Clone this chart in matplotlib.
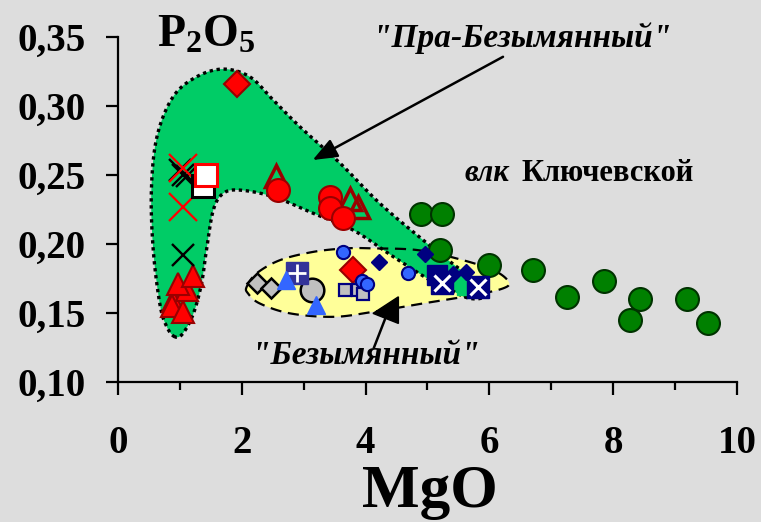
import numpy as np
import matplotlib
matplotlib.use("Agg")
import matplotlib.pyplot as plt
from matplotlib.patches import Polygon

plt.rcParams['font.family'] = ['Liberation Serif', 'DejaVu Serif']
plt.rcParams['mathtext.fontset'] = 'custom'
plt.rcParams['mathtext.rm'] = 'Liberation Serif'
plt.rcParams['mathtext.bf'] = 'Liberation Serif:bold'

# ---- data: MgO (x) vs P2O5 (y), wt.% ----
kl_mgo = [4.90, 5.24, 5.20, 6.00, 6.71, 7.26, 7.85, 8.43, 8.27, 9.19, 9.53]
kl_p2o5 = [0.222, 0.222, 0.196, 0.185, 0.181, 0.162, 0.173, 0.160, 0.145, 0.160, 0.143]

red_circ_mgo = [2.59, 3.42, 3.42, 3.64]
red_circ_p2o5 = [0.239, 0.234, 0.226, 0.219]

red_opentri_mgo = [2.56, 3.75, 3.88]
red_opentri_p2o5 = [0.249, 0.233, 0.227]

red_diam_mgo = [1.93, 3.79]
red_diam_p2o5 = [0.316, 0.181]

red_x_mgo = [1.05, 1.05]
red_x_p2o5 = [0.255, 0.227]

black_x_mgo = [1.00, 1.05, 1.11, 1.05]
black_x_p2o5 = [0.254, 0.250, 0.249, 0.192]

wsq_black_mgo = [1.38]
wsq_black_p2o5 = [0.242]
wsq_red_mgo = [1.42]
wsq_red_p2o5 = [0.250]

red_tri_mgo = [0.89, 0.87, 1.11, 0.97, 1.22, 1.05]
red_tri_p2o5 = [0.159, 0.155, 0.167, 0.171, 0.177, 0.151]

gray_diam_mgo = [2.24, 2.48]
gray_diam_p2o5 = [0.1715, 0.168]

gray_circ_mgo = [3.13]
gray_circ_p2o5 = [0.167]

navy_plus_mgo = [2.89]
navy_plus_p2o5 = [0.179]

blue_tri_mgo = [2.72, 3.20]
blue_tri_p2o5 = [0.174, 0.156]

gray_sq_mgo = [3.67, 3.88, 3.96]
gray_sq_p2o5 = [0.167, 0.1667, 0.164]

blue_circ_mgo = [3.64, 3.94, 4.02, 4.69]
blue_circ_p2o5 = [0.194, 0.173, 0.171, 0.179]

navy_diam_mgo = [4.21, 4.96, 5.42, 5.63]
navy_diam_p2o5 = [0.187, 0.193, 0.178, 0.180]

navy_sq_mgo = [5.15]
navy_sq_p2o5 = [0.1775]

navy_x_mgo = [5.23, 5.82]
navy_x_p2o5 = [0.1715, 0.169]

green_sq_mgo = [5.55]
green_sq_p2o5 = [0.1667]

# field outlines
pra_mgo = [0.92, 0.79, 0.68, 0.57, 0.54, 0.63, 0.89, 1.27, 1.70, 2.13, 2.51, 2.94,
           3.59, 4.23, 4.93, 5.47, 5.80, 5.95, 5.88, 5.65, 5.36, 5.04, 4.45, 3.80,
           3.16, 2.51, 1.97, 1.70, 1.54, 1.43, 1.35, 1.22, 1.05]
pra_p2o5 = [0.1328, 0.140, 0.1558, 0.1957, 0.2391, 0.2778, 0.3067, 0.3212, 0.3268,
            0.3212, 0.3043, 0.2850, 0.2585, 0.2295, 0.2029, 0.1836, 0.1730, 0.1665,
            0.1610, 0.1610, 0.1670, 0.1739, 0.1908, 0.2101, 0.2222, 0.2343, 0.2391,
            0.2367, 0.2246, 0.1957, 0.1715, 0.1498, 0.1353]

bez_mgo = [2.08, 2.24, 2.62, 3.16, 3.69, 4.12, 4.83, 5.47, 6.06, 6.31, 6.22, 5.74,
           4.93, 4.12, 3.48, 2.78, 2.29, 2.10]
bez_p2o5 = [0.1691, 0.1788, 0.1884, 0.1944, 0.1969, 0.1969, 0.1957, 0.1896, 0.1812,
            0.1727, 0.1679, 0.1630, 0.1570, 0.1509, 0.1473, 0.1498, 0.1570, 0.1643]

x_ticks = [0, 2, 4, 6, 8, 10]
x_labels = ['0', '2', '4', '6', '8', '10']
y_ticks = [0.10, 0.15, 0.20, 0.25, 0.30, 0.35]
y_labels = ['0,10', '0,15', '0,20', '0,25', '0,30', '0,35']


def closed_spline(xs, ys, n=24):
    """Closed Catmull-Rom curve through the outline vertices."""
    P = np.column_stack([xs, ys])
    N = len(P)
    t = np.linspace(0, 1, n, endpoint=False)[:, None]
    segs = []
    for i in range(N):
        p0, p1, p2, p3 = P[i - 1], P[i], P[(i + 1) % N], P[(i + 2) % N]
        segs.append(0.5 * (2 * p1 + (-p0 + p2) * t
                           + (2 * p0 - 5 * p1 + 4 * p2 - p3) * t ** 2
                           + (-p0 + 3 * p1 - 3 * p2 + p3) * t ** 3))
    return np.vstack(segs)


BG = '#DDDDDD'
fig = plt.figure(figsize=(7.61, 5.22), dpi=100, facecolor=BG)
ax = fig.add_axes([0.155, 0.268, 0.8135, 0.661])
ax.set_facecolor(BG)
ax.set_xlim(0, 10)
ax.set_ylim(0.10, 0.35)

# fields
bez = closed_spline(bez_mgo, bez_p2o5)
pra = closed_spline(pra_mgo, pra_p2o5)
ax.add_patch(Polygon(bez, closed=True, facecolor='#FFFF99', edgecolor='none', zorder=1))
ax.add_patch(Polygon(pra, closed=True, facecolor='#00CC66', edgecolor='none', zorder=2))
ax.add_patch(Polygon(bez, closed=True, facecolor='none', edgecolor='black', lw=1.6,
                     linestyle=(0, (5, 3)), zorder=3))
ax.add_patch(Polygon(pra, closed=True, facecolor='none', edgecolor='black', lw=2.4,
                     linestyle=(0, (1, 1.1)), zorder=3))

# arrows
ax.annotate('', xy=(3.145, 0.2609), xytext=(6.22, 0.3357),
            arrowprops=dict(arrowstyle='-|>,head_length=1.5,head_width=0.6',
                            color='black', lw=1.8, shrinkA=0, shrinkB=0), zorder=6)
ax.plot([4.13, 4.33], [0.1244, 0.1475], color='black', lw=1.8, zorder=6,
        solid_capstyle='butt')
ax.add_patch(Polygon([[4.12, 0.1498], [4.53, 0.1618], [4.53, 0.1425]], closed=True,
                     facecolor='black', edgecolor='black', zorder=6))

# markers
z = 5
ax.plot(kl_mgo, kl_p2o5, 'o', ms=16.5, mfc='#008000', mec='#003300', mew=1.5, ls='none', zorder=z)
ax.plot(red_tri_mgo, red_tri_p2o5, '^', ms=15.5, mfc='#FF0000', mec='#990000', mew=1.5, ls='none', zorder=z)
ax.plot(black_x_mgo[:3], black_x_p2o5[:3], 'x', ms=16, mec='black', mew=1.7, ls='none', zorder=z)
ax.plot(black_x_mgo[3:], black_x_p2o5[3:], 'x', ms=16, mec='black', mew=1.7, ls='none', zorder=z)
ax.plot(red_x_mgo, red_x_p2o5, 'x', ms=20, mec='#FF0000', mew=1.6, ls='none', zorder=z)
ax.plot(wsq_black_mgo, wsq_black_p2o5, 's', ms=16, mfc='white', mec='black', mew=2.2, ls='none', zorder=z)
ax.plot(wsq_red_mgo, wsq_red_p2o5, 's', ms=16, mfc='white', mec='#FF0000', mew=2.2, ls='none', zorder=z)
ax.plot(red_diam_mgo, red_diam_p2o5, 'D', ms=13, mfc='#FF0000', mec='#990000', mew=1.5, ls='none', zorder=z)
ax.plot(red_opentri_mgo, red_opentri_p2o5, '^', ms=16, mfc='none', mec='#990000', mew=2.5, ls='none', zorder=z)
ax.plot(red_circ_mgo, red_circ_p2o5, 'o', ms=16.5, mfc='#FF0000', mec='#990000', mew=1.5, ls='none', zorder=z)
ax.plot(gray_diam_mgo, gray_diam_p2o5, 'D', ms=10, mfc='#C0C0C0', mec='black', mew=1.8, ls='none', zorder=z)
ax.plot(gray_circ_mgo, gray_circ_p2o5, 'o', ms=17, mfc='#C0C0C0', mec='black', mew=1.8, ls='none', zorder=z)
ax.plot(navy_plus_mgo, navy_plus_p2o5, 's', ms=16, mfc='#333399', mec='#333399', ls='none', zorder=z)
ax.plot(navy_plus_mgo, navy_plus_p2o5, '+', ms=13, mec='white', mew=2, ls='none', zorder=z)
ax.plot(blue_tri_mgo, blue_tri_p2o5, '^', ms=13, mfc='#3366FF', mec='#3366FF', ls='none', zorder=z)
ax.plot(gray_sq_mgo, gray_sq_p2o5, 's', ms=9, mfc='#C0C0C0', mec='#000080', mew=1.6, ls='none', zorder=z)
ax.plot(blue_circ_mgo, blue_circ_p2o5, 'o', ms=9.5, mfc='#3366FF', mec='#000080', mew=1.5, ls='none', zorder=z)
ax.plot(navy_diam_mgo, navy_diam_p2o5, 'D', ms=8.5, mfc='#000080', mec='#000080', ls='none', zorder=z)
ax.plot(green_sq_mgo, green_sq_p2o5, 's', ms=7, mfc='#00CC66', mec='#00CC66', ls='none', zorder=z)
ax.plot(navy_sq_mgo, navy_sq_p2o5, 's', ms=15, mfc='#000080', mec='#000080', ls='none', zorder=z)
ax.plot(navy_x_mgo, navy_x_p2o5, 's', ms=16, mfc='#000080', mec='#000080', ls='none', zorder=z)
ax.plot(navy_x_mgo, navy_x_p2o5, 'x', ms=12, mec='white', mew=2.2, ls='none', zorder=z)

# axes styling
for s in ('top', 'right'):
    ax.spines[s].set_visible(False)
for s in ('left', 'bottom'):
    ax.spines[s].set_linewidth(1.6)
ax.set_xticks(x_ticks)
ax.set_xticklabels(x_labels)
ax.set_xticks([1, 3, 5, 7, 9], minor=True)
ax.set_yticks(y_ticks)
ax.set_yticklabels(y_labels)
ax.tick_params(axis='both', which='both', direction='out', width=1.6, colors='black')
ax.tick_params(axis='x', which='major', length=9, pad=22, labelsize=28)
ax.tick_params(axis='x', which='minor', length=6)
ax.tick_params(axis='y', which='major', length=9, pad=14, labelsize=28)
for lab in ax.get_xticklabels() + ax.get_yticklabels():
    lab.set_fontweight('bold')

W, H = 761, 522
fig.text(430 / W, 1 - 492 / H, 'MgO', fontsize=44, fontweight='bold',
         ha='center', va='center')
fig.text(157 / W, 1 - 47 / H, r'$\mathbf{P_2O_5}$', fontsize=33,
         ha='left', va='baseline')
fig.text(373 / W, 1 - 47 / H, '"Пра-Безымянный"', fontsize=24, fontweight='bold',
         fontstyle='italic', ha='left', va='baseline')
fig.text(465 / W, 1 - 181 / H, 'влк', fontsize=22, fontweight='bold',
         fontstyle='italic', ha='left', va='baseline')
fig.text(522 / W, 1 - 181 / H, 'Ключевской', fontsize=22, fontweight='bold',
         ha='left', va='baseline')
fig.text(252 / W, 1 - 364 / H, '"Безымянный"', fontsize=24, fontweight='bold',
         fontstyle='italic', ha='left', va='baseline')

fig.savefig('out.png', dpi=100, facecolor=BG)
